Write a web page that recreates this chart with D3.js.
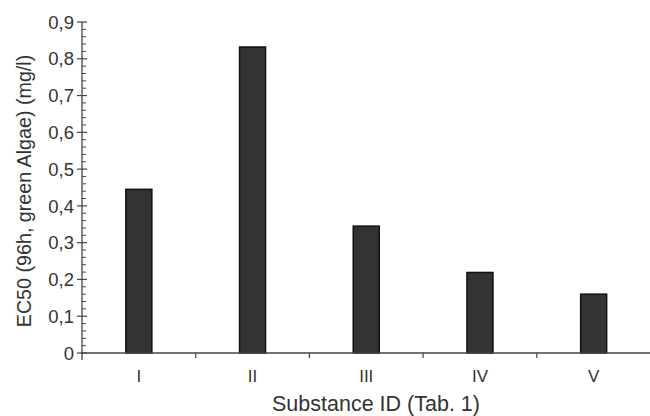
<!DOCTYPE html>
<html>
<head>
<meta charset="utf-8">
<script src="https://cdn.jsdelivr.net/npm/d3@7"></script>
<style>
  body { margin: 0; background: #fff; }
  svg { display: block; }
</style>
</head>
<body>
<svg id="chart" width="650" height="416"></svg>
<script>
// substances and EC50 values
const substances = ["I", "II", "III", "IV", "V"];
const ec50 = [0.445, 0.832, 0.345, 0.219, 0.160];
const yTicks = [0, 0.1, 0.2, 0.3, 0.4, 0.5, 0.6, 0.7, 0.8, 0.9];

const width = 650, height = 416;
const margin = {top: 22, right: 0, bottom: 63, left: 82};
const axisColor = "#444";

const svg = d3.select("#chart")
    .style("font-family", "'Liberation Sans', Arial, sans-serif");

const x = d3.scaleBand()
    .domain(substances)
    .range([margin.left, margin.left + 5 * 113.7])
    .paddingInner(0)
    .paddingOuter(0);

const y = d3.scaleLinear()
    .domain([0, 0.9])
    .range([height - margin.bottom, margin.top]);

const barW = 26;

// bars
svg.append("g")
    .selectAll("rect")
    .data(substances)
    .join("rect")
    .attr("x", d => x(d) + x.bandwidth() / 2 - barW / 2)
    .attr("y", (d, i) => y(ec50[i]))
    .attr("width", barW)
    .attr("height", (d, i) => y(0) - y(ec50[i]))
    .attr("fill", "#333")
    .attr("stroke", "#111")
    .attr("stroke-width", 1.5);

// y axis: major ticks crossing the line, minor ticks on the right
const yAxis = svg.append("g").attr("stroke", axisColor);
yAxis.append("line")
    .attr("x1", margin.left).attr("x2", margin.left)
    .attr("y1", y(0.9)).attr("y2", y(0) + 7)
    .attr("stroke-width", 1.3);

const minor = d3.range(0, 0.9001, 0.02).filter(v => Math.abs(v * 10 - Math.round(v * 10)) > 1e-6);
yAxis.selectAll("line.minor")
    .data(minor)
    .join("line")
    .attr("class", "minor")
    .attr("x1", margin.left).attr("x2", margin.left + 4)
    .attr("y1", d => y(d)).attr("y2", d => y(d))
    .attr("stroke-width", 1);

yAxis.selectAll("line.major")
    .data(yTicks)
    .join("line")
    .attr("class", "major")
    .attr("x1", margin.left - 5).attr("x2", margin.left + 5)
    .attr("y1", d => y(d)).attr("y2", d => y(d))
    .attr("stroke-width", 1.2);

const fmt = d => d === 0 ? "0" : d3.format(".1f")(d).replace(".", ",");
svg.append("g")
    .selectAll("text")
    .data(yTicks)
    .join("text")
    .attr("x", margin.left - 8)
    .attr("y", d => y(d))
    .attr("dy", "0.36em")
    .attr("text-anchor", "end")
    .attr("font-size", 18.5)
    .attr("fill", "#333")
    .text(fmt);

// x axis
const xAxis = svg.append("g").attr("stroke", axisColor);
xAxis.append("line")
    .attr("x1", margin.left - 1).attr("x2", width)
    .attr("y1", y(0)).attr("y2", y(0))
    .attr("stroke-width", 1.3);

xAxis.selectAll("line.sep")
    .data(substances.slice(1))
    .join("line")
    .attr("class", "sep")
    .attr("x1", d => x(d)).attr("x2", d => x(d))
    .attr("y1", y(0)).attr("y2", y(0) + 5)
    .attr("stroke-width", 1.2);

svg.append("g")
    .selectAll("text")
    .data(substances)
    .join("text")
    .attr("x", d => x(d) + x.bandwidth() / 2)
    .attr("y", 382)
    .attr("text-anchor", "middle")
    .attr("font-size", 17)
    .attr("fill", "#333")
    .text(d => d);

// titles
svg.append("text")
    .attr("x", 376)
    .attr("y", 411)
    .attr("text-anchor", "middle")
    .attr("font-size", 21.5)
    .attr("fill", "#333")
    .text("Substance ID (Tab. 1)");

svg.append("text")
    .attr("transform", `translate(31,191) rotate(-90)`)
    .attr("text-anchor", "middle")
    .attr("font-size", 19.7)
    .attr("fill", "#333")
    .text("EC50 (96h, green Algae) (mg/l)");
</script>
</body>
</html>
